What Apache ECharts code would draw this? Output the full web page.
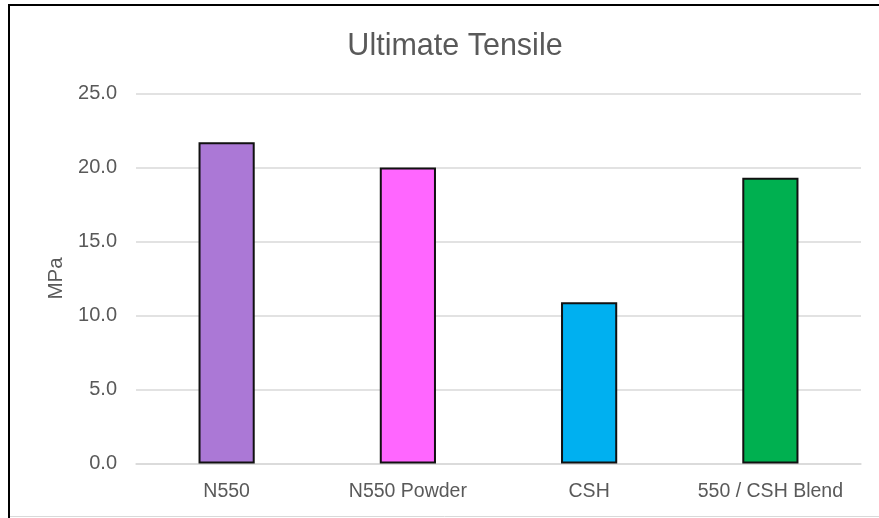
<!DOCTYPE html>
<html>
<head>
<meta charset="utf-8">
<style>
  html, body { margin: 0; padding: 0; background: #ffffff; }
  #chart { width: 879px; height: 518px; }
</style>
<script src="https://cdn.jsdelivr.net/npm/echarts@6/dist/echarts.min.js"></script>
</head>
<body>
<div id="chart"></div>
<script>
// Tensile strength per compound
const categories = ['N550', 'N550 Powder', 'CSH', '550 / CSH Blend'];
const tensileMPa = [21.7, 20.0, 10.9, 19.3];
const barColors = ['#ab78d6', '#ff66ff', '#00b0f0', '#00b050'];
const yTicks = { min: 0, max: 25, step: 5 };

const FONT = '"Liberation Sans", Arial, sans-serif';
const TEXT = '#595959';
const GRID = '#d9d9d9';

const chart = echarts.init(document.getElementById('chart'), null, { renderer: 'canvas' });

chart.setOption({
  backgroundColor: '#ffffff',
  animation: false,
  title: {
    text: 'Ultimate Tensile',
    left: 450,
    textAlign: 'center',
    top: 26.5,
    textStyle: { fontFamily: FONT, fontSize: 30.5, fontWeight: 'normal', color: TEXT }
  },
  grid: { left: 136, right: 18, top: 93.5, bottom: 54.5, containLabel: false },
  xAxis: {
    type: 'category',
    data: categories,
    axisTick: { show: false },
    axisLine: { show: true, lineStyle: { color: GRID, width: 1.5 } },
    axisLabel: { interval: 0, margin: 18, fontFamily: FONT, fontSize: 19.5, color: TEXT }
  },
  yAxis: {
    type: 'value',
    min: yTicks.min,
    max: yTicks.max,
    interval: yTicks.step,
    name: 'MPa',
    nameLocation: 'middle',
    nameGap: 69,
    nameRotate: 90,
    nameMoveOverlap: false,
    nameTextStyle: { fontFamily: FONT, fontSize: 20.5, color: TEXT },
    axisLine: { show: false },
    axisTick: { show: false },
    axisLabel: {
      margin: 19,
      fontFamily: FONT, fontSize: 20, color: TEXT,
      formatter: v => v.toFixed(1)
    },
    splitLine: { lineStyle: { color: GRID, width: 1.5 } }
  },
  series: [{
    type: 'bar',
    barWidth: '31%',
    data: tensileMPa.map((v, i) => ({
      value: v,
      itemStyle: { color: barColors[i], borderColor: '#111111', borderWidth: 2 }
    }))
  }],
  graphic: [
    // chart frame: dark top and left edges, light bottom edge
    { type: 'line', shape: { x1: 8, y1: 5, x2: 879, y2: 5 }, style: { stroke: '#000000', lineWidth: 2 } },
    { type: 'line', shape: { x1: 9, y1: 4, x2: 9, y2: 518 }, style: { stroke: '#000000', lineWidth: 2 } },
    { type: 'line', shape: { x1: 10, y1: 516.5, x2: 879, y2: 516.5 }, style: { stroke: GRID, lineWidth: 1 } }
  ]
});
</script>
</body>
</html>
